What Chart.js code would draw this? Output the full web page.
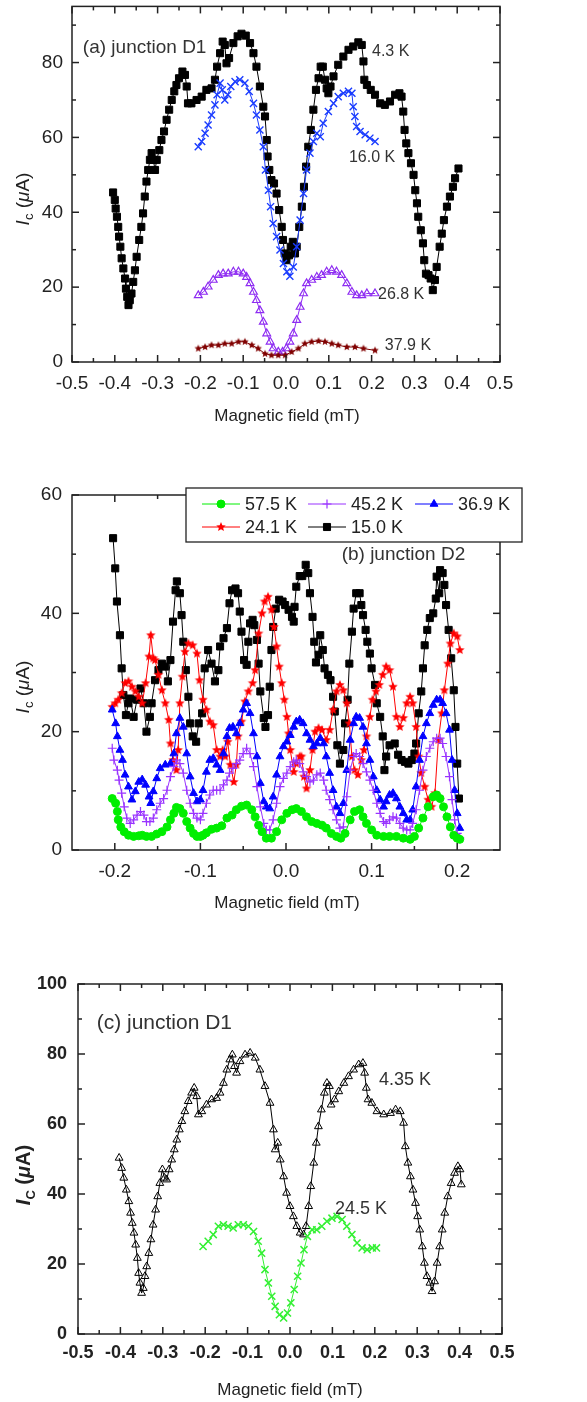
<!DOCTYPE html>
<html>
<head>
<meta charset="utf-8">
<script src="https://cdn.jsdelivr.net/npm/chart.js@4.4.0/dist/chart.umd.min.js"></script>
<style>
  body { margin: 0; background: #fff; width: 587px; height: 1402px; position: relative; overflow: hidden; }
  canvas { position: absolute; left: 0; }
</style>
</head>
<body>
<canvas id="chartA" width="587" height="470" style="top:0px"></canvas>
<canvas id="chartB" width="587" height="460" style="top:470px"></canvas>
<canvas id="chartC" width="587" height="472" style="top:930px"></canvas>
<script>
// ---- panel (a) junction D1 ----
const a43x = [-0.404,-0.400,-0.398,-0.395,-0.392,-0.390,-0.387,-0.384,-0.380,-0.376,-0.374,-0.371,-0.368,-0.365,-0.361,-0.357,-0.353,-0.349,-0.343,-0.338,-0.334,-0.330,-0.326,-0.322,-0.318,-0.314,-0.310,-0.306,-0.302,-0.296,-0.291,-0.285,-0.279,-0.273,-0.267,-0.261,-0.256,-0.250,-0.242,-0.236,-0.232,-0.229,-0.221,-0.209,-0.197,-0.186,-0.174,-0.166,-0.161,-0.154,-0.148,-0.143,-0.139,-0.133,-0.123,-0.113,-0.104,-0.094,-0.084,-0.076,-0.069,-0.061,-0.053,-0.049,-0.045,-0.043,-0.039,-0.034,-0.028,-0.022,-0.016,-0.010,-0.007,-0.003,0.001,0.007,0.011,0.016,0.021,0.025,0.031,0.037,0.042,0.047,0.052,0.058,0.064,0.070,0.076,0.081,0.086,0.091,0.095,0.099,0.104,0.111,0.122,0.134,0.146,0.157,0.169,0.177,0.181,0.183,0.189,0.198,0.208,0.220,0.231,0.243,0.255,0.265,0.270,0.274,0.277,0.281,0.286,0.292,0.298,0.302,0.306,0.309,0.315,0.320,0.323,0.327,0.333,0.338,0.343,0.348,0.352,0.359,0.364,0.369,0.376,0.383,0.390,0.395,0.403];
const a43y = [45.3,43.3,41,38.8,36.1,33.5,30.8,27.7,25,22.3,19.6,17.4,15.2,16.5,18.3,21.4,24.5,28.1,32.6,36.1,39.7,44.2,48.2,51.3,54,55.8,54,51.3,54,56.6,59.3,61.6,64.7,67.4,70,72.3,74,75.8,77.6,76.7,73.6,69.1,69.1,70,70.9,72.7,73.1,75.4,78.9,82.5,85.6,84.7,79.8,81.2,85.2,87,87.7,87.2,85.2,82.5,78.9,73.6,68.2,65.6,59.3,54.9,51.3,48.6,47.7,45,40.6,36.1,32.6,29,27.2,28.5,30.8,32.1,29,30.8,36.1,41.5,46.8,52.2,57.5,62,67.4,72.7,75.8,78.9,78.9,75.4,73.1,71.8,73.6,76.3,79.4,81.6,83.4,84.3,85.4,84.7,80.3,75.4,74,72.7,71.4,69.1,68.7,69.6,71.4,71.8,70.9,66.9,62,58.4,55.8,53.1,50,45.9,42.4,38.8,35.2,31.7,27.2,23.6,23.2,22.3,19.2,21.9,25.4,30.8,34.3,37.9,41.5,44.2,46.8,49.1,51.7];
const a160x = [-0.205,-0.197,-0.189,-0.182,-0.174,-0.166,-0.161,-0.154,-0.149,-0.143,-0.136,-0.129,-0.119,-0.108,-0.096,-0.086,-0.076,-0.069,-0.061,-0.053,-0.048,-0.041,-0.036,-0.030,-0.022,-0.014,-0.006,0.002,0.009,0.017,0.025,0.033,0.041,0.048,0.056,0.064,0.072,0.080,0.087,0.099,0.111,0.122,0.134,0.146,0.154,0.157,0.161,0.165,0.173,0.185,0.196,0.208];
const a160y = [57.5,58.9,61.1,63.3,66,68.7,71.4,74.5,72.7,70,71.4,73.6,74.9,75.4,74.5,72.3,69.1,66,62,57.5,51.3,45.9,41.5,37,33.5,29.9,26.3,24.1,22.9,25.4,30.8,37.9,45,51.3,55.8,58.9,61.1,60.2,63.8,66.9,69.1,70.9,71.8,72.3,71.8,68.2,65.6,62.9,61.6,60.7,59.8,58.9];
const a268x = [-0.205,-0.193,-0.182,-0.170,-0.158,-0.147,-0.135,-0.123,-0.111,-0.100,-0.092,-0.084,-0.076,-0.069,-0.061,-0.053,-0.045,-0.037,-0.030,-0.018,-0.008,0.001,0.009,0.017,0.025,0.033,0.041,0.048,0.060,0.072,0.083,0.095,0.107,0.118,0.130,0.142,0.154,0.165,0.177,0.189,0.208];
const a268y = [17.8,18.7,20.1,21.9,23.2,23.6,23.6,24.1,24.1,23.6,22.7,21,18.7,16.5,13.8,10.7,7.6,5.4,3.6,2.7,2.7,3.6,5.4,7.6,11.2,14.7,18.3,21,21.9,22.7,23.2,24.1,24.5,24.1,23.2,21,18.7,17.8,17.8,18.3,18.3];
const a379x = [-0.205,-0.189,-0.174,-0.158,-0.143,-0.127,-0.111,-0.096,-0.080,-0.065,-0.049,-0.034,-0.018,-0.002,0.013,0.029,0.044,0.060,0.076,0.091,0.107,0.122,0.142,0.161,0.181,0.208];
const a379y = [3.6,4,4.5,4.5,4.9,4.9,5.4,5.4,4.5,3.6,2.2,1.8,1.8,1.8,2.7,3.6,4.9,5.4,5.6,5.4,4.9,4.5,4,4,3.6,3.1];

// ---- panel (b) junction D2 ----
const bTemps = ['57.5 K', '45.2 K', '36.9 K', '24.1 K', '15.0 K'];
const b575x = [-0.203,-0.199,-0.197,-0.196,-0.193,-0.189,-0.184,-0.178,-0.172,-0.168,-0.163,-0.157,-0.151,-0.145,-0.139,-0.135,-0.131,-0.128,-0.124,-0.120,-0.116,-0.112,-0.108,-0.104,-0.100,-0.097,-0.093,-0.087,-0.081,-0.075,-0.069,-0.063,-0.058,-0.052,-0.046,-0.040,-0.036,-0.032,-0.028,-0.023,-0.017,-0.011,-0.005,0.001,0.007,0.012,0.018,0.024,0.030,0.036,0.042,0.047,0.053,0.059,0.064,0.069,0.075,0.080,0.086,0.090,0.094,0.100,0.106,0.114,0.121,0.129,0.137,0.145,0.150,0.155,0.160,0.166,0.172,0.176,0.180,0.184,0.188,0.192,0.196,0.200,0.203];
const b575y = [8.7,7.9,6.5,5.1,3.9,3.1,2.5,2.3,2.4,2.5,2.3,2.3,2.7,3.1,3.9,5.1,6.2,7.2,7,6.2,4.8,3.7,2.8,2.3,2.3,2.5,2.9,3.5,3.7,4.1,5.4,5.9,6.8,7.4,7.6,6.8,5.6,4.2,3.1,2,2,3.1,5.1,6.2,6.8,7,6.5,5.6,4.8,4.5,4.2,3.7,2.8,2.3,2,2.8,5.1,6.5,6.8,5.6,4.5,3.4,2.5,2.3,2.3,2.3,2,1.8,2.3,3.7,5.4,7.3,9,9.3,8.7,7.3,5.6,3.9,2.5,2,1.8];
const b452x = [-0.203,-0.201,-0.197,-0.195,-0.192,-0.189,-0.186,-0.182,-0.178,-0.174,-0.170,-0.166,-0.163,-0.159,-0.155,-0.151,-0.147,-0.143,-0.139,-0.135,-0.131,-0.128,-0.124,-0.120,-0.116,-0.112,-0.108,-0.104,-0.100,-0.097,-0.093,-0.089,-0.085,-0.081,-0.077,-0.073,-0.069,-0.066,-0.062,-0.058,-0.054,-0.050,-0.046,-0.042,-0.038,-0.034,-0.030,-0.026,-0.023,-0.019,-0.015,-0.011,-0.007,-0.003,0.001,0.005,0.009,0.012,0.016,0.020,0.024,0.028,0.032,0.036,0.040,0.044,0.047,0.051,0.055,0.059,0.063,0.067,0.071,0.075,0.079,0.082,0.086,0.090,0.094,0.098,0.102,0.106,0.110,0.114,0.117,0.121,0.125,0.129,0.133,0.137,0.141,0.145,0.148,0.152,0.156,0.160,0.164,0.168,0.172,0.176,0.180,0.183,0.187,0.191,0.194,0.197,0.200,0.203];
const b452y = [17.2,15.2,13.5,11.8,9.6,7.3,5.4,4.5,5.1,5.9,6.5,5.9,4.8,4.8,5.4,6.8,7.9,8.7,10.1,12.4,14.1,15.2,14.6,13,10.1,7.9,6.2,5.4,5.1,6.2,7.9,9.3,10.1,10.1,10.1,11,11.8,13,13.8,14.6,15.2,16.3,17.2,16.3,14.1,10.7,7.3,4.5,3.4,3.4,5.1,7.9,10.7,12.1,13,14.1,14.9,15.2,14.6,13.2,12.4,11.5,11.8,12.7,13,11.8,10.1,8.5,6.8,5.1,3.7,3.9,9,13.5,15.8,16.3,15.8,14.6,13.2,11.8,10.1,7.9,6.2,4.8,4.5,5.1,5.6,5.4,4.5,3.7,3.4,3.4,4.5,6.8,10.1,13.5,15.8,17.2,18.3,18.9,18.9,18,15.8,12.4,8.5,5.1,2.8,2];
const b369x = [-0.203,-0.199,-0.197,-0.194,-0.191,-0.188,-0.184,-0.180,-0.176,-0.172,-0.168,-0.164,-0.160,-0.158,-0.155,-0.151,-0.147,-0.141,-0.135,-0.131,-0.128,-0.124,-0.120,-0.116,-0.112,-0.108,-0.104,-0.100,-0.097,-0.093,-0.089,-0.085,-0.081,-0.077,-0.073,-0.069,-0.066,-0.062,-0.058,-0.054,-0.050,-0.046,-0.042,-0.038,-0.034,-0.030,-0.026,-0.023,-0.019,-0.015,-0.011,-0.007,-0.003,0.001,0.005,0.009,0.012,0.016,0.020,0.024,0.028,0.032,0.036,0.040,0.044,0.047,0.051,0.055,0.059,0.063,0.067,0.071,0.075,0.079,0.082,0.086,0.090,0.094,0.098,0.102,0.106,0.110,0.114,0.117,0.121,0.125,0.129,0.133,0.137,0.141,0.145,0.148,0.152,0.156,0.160,0.164,0.168,0.172,0.176,0.180,0.183,0.187,0.191,0.194,0.197,0.200,0.203];
const b369y = [23.7,21.4,19.2,16.9,15.2,12.7,10.7,8.5,9.9,11.5,11.9,11,9,7.9,9.9,12.1,13.8,14.4,14.6,16.3,19.7,22.3,20.8,16.3,12.4,9.6,8.2,8.5,10.1,13.2,15.2,15.5,14.4,13.5,16.3,19.2,20.6,20.8,19.7,21.4,23.7,24.8,23.1,19.7,15.8,11.3,8.2,7.3,7,9,12.7,15.8,17.5,18.3,19.4,20.8,21.7,22,21.4,19.7,18.6,17.5,18,18.9,18,15.8,13,10.1,7.3,6.2,7.9,13.5,18.6,21.4,22.5,22.3,20.8,18,15.2,12.4,10.1,8.5,7.3,8.2,9.3,9.6,8.7,7.3,6.2,5.1,5.1,6.8,10.7,15.2,19.2,21.4,23.1,24.5,25.4,25.4,24.8,23.1,20.3,15.2,10.1,6.2,3.7];
const b241x = [-0.203,-0.1995,-0.196,-0.192,-0.188,-0.184,-0.180,-0.176,-0.172,-0.168,-0.164,-0.160,-0.158,-0.155,-0.153,-0.149,-0.145,-0.141,-0.137,-0.135,-0.132,-0.128,-0.126,-0.124,-0.121,-0.118,-0.114,-0.109,-0.104,-0.101,-0.097,-0.093,-0.089,-0.085,-0.081,-0.077,-0.074,-0.071,-0.068,-0.065,-0.061,-0.058,-0.056,-0.052,-0.048,-0.044,-0.039,-0.036,-0.032,-0.028,-0.025,-0.021,-0.017,-0.014,-0.011,-0.008,-0.005,-0.002,0.001,0.003,0.005,0.009,0.012,0.016,0.018,0.021,0.024,0.028,0.031,0.034,0.038,0.042,0.047,0.051,0.055,0.059,0.063,0.067,0.071,0.074,0.077,0.080,0.084,0.088,0.091,0.094,0.098,0.101,0.105,0.109,0.113,0.117,0.121,0.125,0.129,0.133,0.137,0.141,0.145,0.148,0.152,0.155,0.158,0.162,0.166,0.170,0.174,0.178,0.182,0.185,0.189,0.192,0.196,0.200,0.203];
const b241y = [24.2,24.8,25.4,26.5,28.2,28.5,27.6,26.8,25.9,24.8,28.2,32.7,36.3,32.4,32.1,29.6,27,24.8,22,18,15.2,13.5,16.9,24.8,29.3,33.5,34.9,34.6,33.2,28.7,25.4,23.7,21.7,21.1,16.9,15.8,16.9,15.8,18.3,14.4,11.5,14.4,19.2,21.7,25.1,26.8,28.2,30.4,36.6,40,42,42.8,40.6,37.7,34.4,31,28.2,25.4,22.5,19.7,16.9,13.2,14.6,15.8,15.8,12.4,10.4,13.5,16.9,20,20.6,20.3,18.6,20.3,23.7,26.8,27.9,27,24.8,21.4,15.8,13.5,12.7,15.2,16.9,19.2,22.5,25.4,26.8,27.9,29.6,31,30.4,27.6,22.5,20.8,22.3,24.8,25.9,24.8,20.8,15.8,13,10.7,8.5,7.3,9.6,18.6,23.1,27,31.5,34.9,36.6,36.1,33.8];
const b150x = [-0.202,-0.1995,-0.1975,-0.194,-0.192,-0.190,-0.187,-0.184,-0.182,-0.178,-0.174,-0.170,-0.166,-0.163,-0.159,-0.157,-0.153,-0.149,-0.145,-0.141,-0.138,-0.135,-0.132,-0.129,-0.1275,-0.124,-0.122,-0.120,-0.117,-0.114,-0.112,-0.109,-0.105,-0.102,-0.098,-0.095,-0.091,-0.087,-0.083,-0.079,-0.077,-0.073,-0.069,-0.066,-0.063,-0.059,-0.056,-0.054,-0.052,-0.049,-0.046,-0.044,-0.042,-0.039,-0.037,-0.034,-0.032,-0.030,-0.026,-0.024,-0.021,-0.019,-0.017,-0.015,-0.012,-0.008,-0.004,-0.001,0.003,0.007,0.009,0.010,0.012,0.016,0.019,0.023,0.026,0.028,0.031,0.033,0.035,0.038,0.040,0.043,0.045,0.049,0.052,0.055,0.057,0.060,0.063,0.067,0.069,0.072,0.074,0.077,0.079,0.082,0.086,0.088,0.090,0.093,0.095,0.098,0.100,0.104,0.106,0.110,0.113,0.115,0.117,0.121,0.127,0.131,0.135,0.139,0.143,0.147,0.150,0.152,0.155,0.158,0.160,0.162,0.165,0.168,0.172,0.175,0.176,0.179,0.180,0.183,0.185,0.187,0.190,0.193,0.196,0.198,0.200,0.202];
const b150y = [52.7,47.6,42,36.3,30.7,26.2,22.8,24.8,25.6,22.5,25.4,27.3,24.8,20,22.5,24.8,28.7,30.4,31.5,31,28.5,32.1,38.6,43.9,45.4,43.4,39.7,35.2,30.4,25.9,21.4,19.2,18.3,21.4,23.1,30.7,33.8,31.5,28.5,30.4,34.4,35.8,37.5,41.7,43.9,44.2,43.4,40.3,36.9,32.1,31.3,35.2,38.3,38.9,38,35.5,31.5,26.8,22.3,20.8,22.8,27.6,33.8,37.7,40.8,42.3,42,41.4,40.6,39.4,38.6,41.1,44.5,46.3,46.3,48.2,46.8,43.4,39.4,35.2,31.7,33,36.3,33.8,30.7,29.6,28.7,25.9,23.4,17.7,14.6,16.9,21.4,25.4,31.5,36.9,40.8,43.4,43.4,41.4,39.7,37.2,35.2,33.2,30.7,27.9,24.8,22.5,19.2,13.5,15.8,17.7,18,16.1,15.2,14.9,14.6,15.2,16.3,18,23.1,26.8,30.7,34.6,37.2,39.2,40,42.5,46.2,43.4,47.3,46.8,44.8,41.4,37.2,32.4,27,20.8,14.6,8.7];

// ---- panel (c) junction D1 ----
const c435x = [-0.403,-0.397,-0.392,-0.386,-0.380,-0.376,-0.372,-0.368,-0.364,-0.360,-0.357,-0.354,-0.350,-0.346,-0.342,-0.338,-0.333,-0.328,-0.323,-0.317,-0.312,-0.307,-0.301,-0.296,-0.291,-0.285,-0.279,-0.273,-0.267,-0.261,-0.255,-0.248,-0.240,-0.232,-0.226,-0.220,-0.216,-0.208,-0.197,-0.185,-0.173,-0.165,-0.157,-0.149,-0.142,-0.136,-0.131,-0.126,-0.118,-0.106,-0.094,-0.082,-0.071,-0.059,-0.047,-0.039,-0.035,-0.029,-0.023,-0.015,-0.008,0.000,0.008,0.016,0.024,0.032,0.038,0.044,0.049,0.056,0.062,0.067,0.074,0.081,0.087,0.093,0.097,0.105,0.115,0.127,0.138,0.150,0.162,0.172,0.176,0.180,0.184,0.193,0.205,0.221,0.237,0.249,0.260,0.268,0.272,0.278,0.284,0.290,0.296,0.301,0.306,0.312,0.317,0.323,0.330,0.335,0.341,0.347,0.353,0.359,0.365,0.372,0.380,0.388,0.396,0.401,0.404];
const c435y = [50.3,47.4,44.6,41.2,37.9,34.6,31.7,28.9,25.5,21.7,17.4,14.6,11.7,13.1,16.5,19.3,23.1,27,31.2,35.5,39.3,43.1,47,44.6,44.1,47,49.8,52.7,55.5,58.4,60.8,63.6,66.5,68.9,70.3,67.9,62.7,63.6,65.5,67,67.4,68.9,71.7,75.5,78.4,79.8,76.5,74.6,77.9,79.8,80.3,78.9,75.5,70.8,66,58.4,52.7,54.6,49.8,45,40.3,36.5,33.6,30.8,28.9,28.4,30.8,36.5,42.2,48.9,54.6,59.3,64.1,68.9,71.7,70.8,65.5,67,69.3,71.7,73.6,75.5,77,77.4,74.6,70.3,67,66,63.6,62.7,63.1,64.1,63.6,60.3,53.6,48.9,45,41.2,37.4,33.6,29.8,25,20.3,16.5,14.6,12.2,15,20.3,25,29.8,34.6,39.3,43.1,46,47.9,47,42.7];
const c245x = [-0.205,-0.193,-0.181,-0.169,-0.157,-0.146,-0.134,-0.122,-0.110,-0.098,-0.086,-0.075,-0.067,-0.059,-0.051,-0.043,-0.035,-0.025,-0.015,-0.006,0.002,0.010,0.018,0.026,0.033,0.041,0.052,0.063,0.075,0.087,0.099,0.111,0.123,0.134,0.146,0.158,0.170,0.182,0.194,0.204];
const c245y = [25,26.5,28.4,30.8,31.2,30.8,30.3,31.2,31.2,30.8,29.3,26.5,23.1,18.4,14.6,10.8,7.9,5.5,4.6,6,8.9,12.7,16.5,20.3,24.1,27.9,29.8,29.8,30.8,32.2,33.1,33.6,32.7,30.8,28.4,26,24.6,24.1,24.6,24.6];

// axis ticks
const xTicksWide = [-0.5,-0.4,-0.3,-0.2,-0.1,0,0.1,0.2,0.3,0.4,0.5];
const xMinorWide = [-0.45,-0.35,-0.25,-0.15,-0.05,0.05,0.15,0.25,0.35,0.45];
const xTicksB = [-0.2,-0.1,0,0.1,0.2];
const xMinorB = [-0.15,-0.05,0.05,0.15];
const yTicksA = [0,20,40,60,80];
const yMinorA = [10,30,50,70,90];
const yTicksB = [0,20,40,60];
const yMinorB = [10,30,50];
const yTicksC = [0,20,40,60,80,100];
const yMinorC = [10,30,50,70,90];

const FONT = '"Liberation Sans", Arial, Helvetica, sans-serif';
Chart.defaults.font.family = FONT;
Chart.defaults.color = '#222';

// filled five-pointed star used as a point style
function starImage(color, r) {
  const c = document.createElement('canvas');
  const s = Math.ceil(r * 2 + 2);
  c.width = s; c.height = s;
  const g = c.getContext('2d');
  g.fillStyle = color;
  g.beginPath();
  for (let i = 0; i < 10; i++) {
    const ang = -Math.PI / 2 + i * Math.PI / 5;
    const rr = i % 2 ? r * 0.45 : r;
    g.lineTo(s / 2 + rr * Math.cos(ang), s / 2 + rr * Math.sin(ang));
  }
  g.closePath();
  g.fill();
  return c;
}

function pts(xs, ys) {
  const n = Math.min(xs.length, ys.length);
  const out = [];
  for (let i = 0; i < n; i++) out.push({x: xs[i], y: ys[i]});
  return out;
}

function series(label, xs, ys, color, style, r, filled, bw) {
  return {
    label, data: pts(xs, ys), showLine: true,
    borderColor: color, borderWidth: 1, tension: 0,
    pointStyle: style, pointRadius: r, pointBorderWidth: bw || 1,
    pointBorderColor: color,
    pointBackgroundColor: filled ? color : 'rgba(0,0,0,0)'
  };
}

function scales(o) {
  return {
    x: {
      type: 'linear', min: o.xMin, max: o.xMax,
      afterBuildTicks: s => { s.ticks = o.xTicks.map(v => ({value: v})); },
      afterFit: s => { s.height = o.xH; s.paddingLeft = 0; s.paddingRight = 0; },
      grid: {display: false, drawTicks: false, tickLength: 0},
      border: {display: false},
      ticks: {padding: o.xPad, font: o.tickFont, color: '#222', maxRotation: 0, autoSkip: false,
        callback: v => v.toFixed(1)}
    },
    y: {
      type: 'linear', min: o.yMin, max: o.yMax,
      afterBuildTicks: s => { s.ticks = o.yTicks.map(v => ({value: v})); },
      afterFit: s => { s.width = o.yW; s.paddingTop = 0; s.paddingBottom = 0; },
      grid: {display: false, drawTicks: false, tickLength: 0},
      border: {display: false},
      ticks: {padding: o.yPad, font: o.tickFont, color: '#222', autoSkip: false,
        callback: v => String(v)}
    }
  };
}

// frame with inward ticks on all four sides
const frameTicks = {
  id: 'frameTicks',
  afterDatasetsDraw(chart, args, o) {
    const {ctx, chartArea: a} = chart;
    const {x, y} = chart.scales;
    ctx.save();
    ctx.strokeStyle = '#222';
    ctx.lineWidth = o.lw || 1.5;
    ctx.strokeRect(a.left, a.top, a.right - a.left, a.bottom - a.top);
    const line = (x1, y1, x2, y2) => { ctx.beginPath(); ctx.moveTo(x1, y1); ctx.lineTo(x2, y2); ctx.stroke(); };
    const xt = (vals, len) => vals.forEach(v => {
      const p = x.getPixelForValue(v);
      line(p, a.bottom, p, a.bottom - len);
      line(p, a.top, p, a.top + len);
    });
    const yt = (vals, len) => vals.forEach(v => {
      const p = y.getPixelForValue(v);
      line(a.left, p, a.left + len, p);
      line(a.right, p, a.right - len, p);
    });
    xt(o.xMajor, 7); xt(o.xMinor, 4);
    yt(o.yMajor, 7); yt(o.yMinor, 4);
    ctx.restore();
  }
};

function drawYTitle(ctx, t) {
  ctx.save();
  ctx.translate(t.cx, t.cy);
  ctx.rotate(-Math.PI / 2);
  ctx.textBaseline = 'alphabetic';
  ctx.textAlign = 'left';
  ctx.fillStyle = '#222';
  let w = 0;
  t.parts.forEach(p => { ctx.font = p.f; w += ctx.measureText(p.t).width; });
  let xx = -w / 2;
  t.parts.forEach(p => {
    ctx.font = p.f;
    ctx.fillText(p.t, xx, p.dy || 0);
    xx += ctx.measureText(p.t).width;
  });
  ctx.restore();
}

function marker(ctx, ds, px, py) {
  ctx.strokeStyle = ds.pointBorderColor;
  ctx.fillStyle = ds.pointBackgroundColor;
  ctx.lineWidth = ds.pointBorderWidth;
  if (Chart.helpers && Chart.helpers.drawPoint) {
    Chart.helpers.drawPoint(ctx, {pointStyle: ds.pointStyle, radius: ds.pointRadius, borderWidth: ds.pointBorderWidth, rotation: 0}, px, py);
  } else {
    ctx.beginPath(); ctx.arc(px, py, ds.pointRadius, 0, Math.PI * 2); ctx.fill(); ctx.stroke();
  }
}

function drawLegend(chart, L) {
  const ctx = chart.ctx;
  const [bx, by, bw, bh] = L.box;
  ctx.fillStyle = '#fff';
  ctx.fillRect(bx, by, bw, bh);
  ctx.strokeStyle = '#222';
  ctx.lineWidth = 1.3;
  ctx.strokeRect(bx, by, bw, bh);
  L.items.forEach(it => {
    const ds = chart.data.datasets[it.ds];
    ctx.strokeStyle = ds.borderColor;
    ctx.lineWidth = 1;
    ctx.beginPath(); ctx.moveTo(it.x, it.y); ctx.lineTo(it.x + 38, it.y); ctx.stroke();
    marker(ctx, ds, it.x + 19, it.y);
    ctx.font = L.font;
    ctx.textBaseline = 'middle';
    ctx.textAlign = 'left';
    ctx.fillStyle = '#222';
    ctx.fillText(ds.label, it.x + 43, it.y + 1);
  });
}

const texts = {
  id: 'texts',
  afterDraw(chart, args, o) {
    const ctx = chart.ctx;
    const {x, y} = chart.scales;
    ctx.save();
    ctx.fillStyle = '#333';
    ctx.textBaseline = 'middle';
    ctx.textAlign = 'left';
    (o.notes || []).forEach(n => {
      ctx.font = n.f;
      ctx.fillText(n.t, x.getPixelForValue(n.x), y.getPixelForValue(n.y));
    });
    if (o.xTitle) {
      ctx.font = o.xTitle.f;
      ctx.fillStyle = '#222';
      ctx.textAlign = 'center';
      ctx.fillText(o.xTitle.t, o.xTitle.cx, o.xTitle.cy);
    }
    if (o.yTitle) drawYTitle(ctx, o.yTitle);
    if (o.legend) drawLegend(chart, o.legend);
    ctx.restore();
  }
};

const yTitleParts = [
  {t: 'I', f: 'italic 19px ' + FONT},
  {t: 'c', f: '13px ' + FONT, dy: 4},
  {t: ' (', f: '19px ' + FONT},
  {t: '\u03bc', f: 'italic 19px ' + FONT},
  {t: 'A)', f: '19px ' + FONT}
];
const xTitleText = 'Magnetic field (mT)';

// ---------- chart (a) ----------
new Chart('chartA', {
  type: 'scatter',
  data: {datasets: [
    series('37.9 K', a379x, a379y, '#800000', starImage('#800000', 4), 4, true),
    series('26.8 K', a268x, a268y, '#8e2cf2', 'triangle', 4.5, false, 1.2),
    series('16.0 K', a160x, a160y, '#1a3cff', 'crossRot', 5, false, 1.4),
    series('4.3 K', a43x, a43y, '#000000', 'rect', 5, true)
  ]},
  options: {
    responsive: false, animation: false, events: [],
    layout: {padding: {top: 6, right: 87, left: 0, bottom: 0}},
    scales: scales({xMin: -0.5, xMax: 0.5, yMin: 0, yMax: 95, xTicks: xTicksWide, yTicks: yTicksA,
      xH: 108, yW: 72, xPad: 10, yPad: 9, tickFont: {size: 19, family: FONT}}),
    plugins: {
      legend: {display: false}, tooltip: {enabled: false},
      frameTicks: {xMajor: xTicksWide, xMinor: xMinorWide, yMajor: yTicksA, yMinor: yMinorA},
      texts: {
        notes: [
          {t: '(a) junction D1', x: -0.4746, y: 84, f: '19px ' + FONT},
          {t: '4.3 K', x: 0.201, y: 82.9, f: '16px ' + FONT},
          {t: '16.0 K', x: 0.147, y: 54.6, f: '16px ' + FONT},
          {t: '26.8 K', x: 0.215, y: 17.9, f: '16px ' + FONT},
          {t: '37.9 K', x: 0.231, y: 4.3, f: '16px ' + FONT}
        ],
        xTitle: {t: xTitleText, cx: 287, cy: 416, f: '17px ' + FONT},
        yTitle: {cx: 29, cy: 199, parts: yTitleParts}
      }
    }
  },
  plugins: [frameTicks, texts]
});

// ---------- chart (b) ----------
new Chart('chartB', {
  type: 'scatter',
  data: {datasets: [
    series(bTemps[0], b575x, b575y, '#00ee00', 'circle', 4, true),
    series(bTemps[1], b452x, b452y, '#9933ff', 'cross', 4.5, false, 1.2),
    series(bTemps[2], b369x, b369y, '#0000ff', 'triangle', 4.5, true),
    series(bTemps[3], b241x, b241y, '#ff0000', starImage('#ff0000', 5), 5, true),
    series(bTemps[4], b150x, b150y, '#000000', 'rect', 5, true)
  ]},
  options: {
    responsive: false, animation: false, events: [],
    layout: {padding: {top: 25, right: 87, left: 0, bottom: 0}},
    scales: scales({xMin: -0.25, xMax: 0.25, yMin: 0, yMax: 60, xTicks: xTicksB, yTicks: yTicksB,
      xH: 80, yW: 72, xPad: 10, yPad: 10, tickFont: {size: 19, family: FONT}}),
    plugins: {
      legend: {display: false}, tooltip: {enabled: false},
      frameTicks: {xMajor: xTicksB, xMinor: xMinorB, yMajor: yTicksB, yMinor: yMinorB},
      texts: {
        notes: [
          {t: '(b) junction D2', x: 0.065, y: 49.9, f: '19px ' + FONT}
        ],
        xTitle: {t: xTitleText, cx: 287, cy: 433, f: '17px ' + FONT},
        yTitle: {cx: 29, cy: 217, parts: yTitleParts},
        legend: {
          box: [186, 18, 336, 54], font: '18px ' + FONT,
          items: [
            {ds: 0, x: 202, y: 34}, {ds: 1, x: 308, y: 34}, {ds: 2, x: 415, y: 34},
            {ds: 3, x: 202, y: 57}, {ds: 4, x: 308, y: 57}
          ]
        }
      }
    }
  },
  plugins: [frameTicks, texts]
});

// ---------- chart (c) ----------
new Chart('chartC', {
  type: 'scatter',
  data: {datasets: [
    series('24.5 K', c245x, c245y, '#33f033', 'crossRot', 5, false, 1.5),
    series('4.35 K', c435x, c435y, '#000000', 'triangle', 4.5, false)
  ]},
  options: {
    responsive: false, animation: false, events: [],
    layout: {padding: {top: 54, right: 85, left: 0, bottom: 0}},
    scales: scales({xMin: -0.5, xMax: 0.5, yMin: 0, yMax: 100, xTicks: xTicksWide, yTicks: yTicksC,
      xH: 68, yW: 78, xPad: 8, yPad: 11, tickFont: {size: 18, weight: 'bold', family: FONT}}),
    plugins: {
      legend: {display: false}, tooltip: {enabled: false},
      frameTicks: {xMajor: xTicksWide, xMinor: xMinorWide, yMajor: yTicksC, yMinor: yMinorC},
      texts: {
        notes: [
          {t: '(c) junction D1', x: -0.456, y: 88.9, f: '21px ' + FONT},
          {t: '4.35 K', x: 0.21, y: 72.7, f: '18px ' + FONT},
          {t: '24.5 K', x: 0.106, y: 35.8, f: '18px ' + FONT}
        ],
        xTitle: {t: xTitleText, cx: 290, cy: 460, f: '17px ' + FONT},
        yTitle: {cx: 30, cy: 245, parts: [
          {t: 'I', f: 'bold italic 20px ' + FONT},
          {t: 'C', f: 'bold 13px ' + FONT, dy: 5},
          {t: ' (', f: 'bold 20px ' + FONT},
          {t: '\u03bc', f: 'bold italic 20px ' + FONT},
          {t: 'A)', f: 'bold 20px ' + FONT}
        ]}
      }
    }
  },
  plugins: [frameTicks, texts]
});
</script>
</body>
</html>
